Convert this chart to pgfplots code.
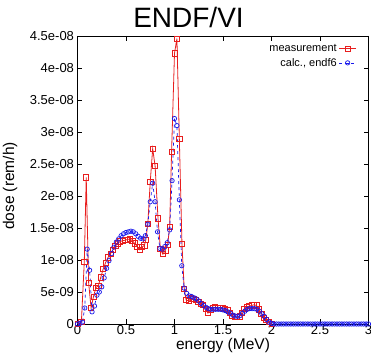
\documentclass[border=0pt]{standalone}
\usepackage{pgfplots}
\pgfplotsset{compat=1.18}
\usepackage{fontspec}
\setmainfont{Liberation Sans}
\usetikzlibrary{calc}
\definecolor{mred}{RGB}{232,30,30}
\definecolor{mblue}{RGB}{25,25,235}
\begin{document}
\begin{tikzpicture}
\begin{axis}[
  name=ax,
  scale only axis,
  width=291pt, height=288pt,
  xmin=0, xmax=3, ymin=0, ymax=45,
  xtick={0,0.5,1,1.5,2,2.5,3},
  xticklabels={0,0.5,1,1.5,2,2.5,3},
  ytick={0,5,10,15,20,25,30,35,40,45},
  yticklabels={0,5e-09,1e-08,1.5e-08,2e-08,2.5e-08,3e-08,3.5e-08,4e-08,4.5e-08},
  tick align=inside,
  major tick length=5pt,
  minor tick num=0,
  tick style={black, line width=0.5pt},
  axis line style={black, line width=0.6pt},
  ticklabel style={font=\fontsize{13}{15}\selectfont},
  xticklabel style={yshift=2pt},
  xlabel={energy (MeV)},
  ylabel={dose (rem/h)},
  label style={font=\fontsize{15.5}{17}\selectfont},
  xlabel style={at={(axis description cs:0.5,0)}, anchor=center, yshift=-21pt},
  ylabel style={at={(axis description cs:0,0.5)}, anchor=center, xshift=-6pt, yshift=67.5pt},
  legend style={draw=none, fill=none, at={(rel axis cs:0.97,0.985)}, anchor=north east,
    font=\fontsize{11}{13}\selectfont, row sep=1pt},
  legend cell align=right,
  legend plot pos=right,
]
\addplot[mred, line width=0.8pt, mark=square, mark size=2.6pt, mark options={solid, line width=0.7pt}] coordinates {
(0,0) (0.04,0.3) (0.07,9.7) (0.09,22.9) (0.115,6.4) (0.14,2.5) (0.165,4.3) (0.19,5.7)
(0.215,6.0) (0.24,7.3) (0.265,8.6) (0.29,9.6) (0.315,10.4) (0.34,11.0) (0.365,11.6)
(0.39,12.2) (0.415,12.6) (0.44,12.9) (0.465,13.0) (0.49,13.1) (0.515,13.2) (0.54,13.3)
(0.565,13.0) (0.59,12.6) (0.615,12.1) (0.64,11.6) (0.665,12.0) (0.69,12.3) (0.705,13.2)
(0.725,15.7) (0.75,22.2) (0.775,27.4) (0.8,24.7) (0.83,16.5) (0.855,11.7) (0.88,10.9)
(0.905,11.5) (0.93,12.4) (0.95,15.2) (0.97,26.9) (1.0,42.3) (1.025,44.6) (1.05,28.9)
(1.077,12.5) (1.1,5.5) (1.12,3.75) (1.145,3.6) (1.17,4.0) (1.195,3.9) (1.22,3.8)
(1.245,3.5) (1.27,3.2) (1.295,3.0) (1.32,2.4) (1.345,1.7) (1.37,2.2) (1.395,2.5)
(1.42,2.6) (1.445,2.5) (1.47,2.5) (1.495,2.5) (1.52,2.4) (1.545,2.2) (1.57,1.8)
(1.595,1.3) (1.62,1.1) (1.645,1.1) (1.67,1.2) (1.695,1.8) (1.72,2.4) (1.745,2.6)
(1.77,2.8) (1.795,2.9) (1.82,3.0) (1.845,2.9) (1.87,2.3) (1.895,1.6) (1.92,1.0)
(1.945,0.6) (1.97,0.3) (2.0,0)
};
\addlegendentry{measurement}
\addplot[mblue, line width=0.7pt, dashed, mark=o, mark size=2.2pt, mark options={solid, line width=0.7pt}] coordinates {
(0,0) (0.025,0.1) (0.05,0.3) (0.075,2.5) (0.1,11.7) (0.125,8.4) (0.15,1.9) (0.175,2.8)
(0.2,4.5) (0.225,5.0) (0.25,5.8) (0.275,7.2) (0.3,8.7) (0.325,9.9) (0.35,11.0) (0.375,12.0)
(0.4,12.8) (0.425,13.3) (0.45,13.8) (0.475,14.1) (0.5,14.3) (0.525,14.4) (0.55,14.5)
(0.575,14.4) (0.6,14.1) (0.625,13.7) (0.65,13.4) (0.675,13.3) (0.7,13.8) (0.725,15.6)
(0.75,19.1) (0.775,22.0) (0.8,19.1) (0.825,14.4) (0.85,11.8) (0.875,11.7) (0.9,12.1)
(0.925,12.7) (0.95,14.7) (0.975,22.4) (1.0,32.1) (1.025,31.0) (1.05,19.4) (1.075,9.1)
(1.1,5.6) (1.125,4.8) (1.15,4.4) (1.175,4.3) (1.2,4.1) (1.225,3.9) (1.25,3.6) (1.275,3.2)
(1.3,2.9) (1.325,2.6) (1.35,2.4) (1.375,2.3) (1.4,2.3) (1.425,2.3) (1.45,2.3) (1.475,2.3)
(1.5,2.2) (1.525,2.1) (1.55,1.9) (1.575,1.7) (1.6,1.4) (1.625,1.25) (1.65,1.2) (1.675,1.3)
(1.7,1.7) (1.725,2.0) (1.75,2.3) (1.775,2.4) (1.8,2.4) (1.825,2.4) (1.85,2.3) (1.875,2.0)
(1.9,1.6) (1.925,1.2) (1.95,0.7) (1.975,0.3) (2.0,0.1) (2.025,0) (2.05,0) (2.075,0)
(2.1,0) (2.125,0) (2.15,0) (2.175,0) (2.2,0) (2.225,0) (2.25,0) (2.275,0) (2.3,0)
(2.325,0) (2.35,0) (2.375,0) (2.4,0) (2.425,0) (2.45,0) (2.475,0) (2.5,0) (2.525,0)
(2.55,0) (2.575,0) (2.6,0) (2.625,0) (2.65,0) (2.675,0) (2.7,0) (2.725,0) (2.75,0)
(2.775,0) (2.8,0) (2.825,0) (2.85,0) (2.875,0) (2.9,0) (2.925,0) (2.95,0) (2.975,0) (3.0,0)
};
\addlegendentry{calc., endf6}
\end{axis}
\node[anchor=base, font=\fontsize{28}{30}\selectfont, inner sep=0pt] at ($(ax.north west)+(111pt,8pt)$) {ENDF/VI};
\pgfresetboundingbox
\path ($(ax.south west)+(-77.5pt,-31pt)$) rectangle ($(ax.north east)+(2.5pt,36pt)$);
\end{tikzpicture}
\end{document}
